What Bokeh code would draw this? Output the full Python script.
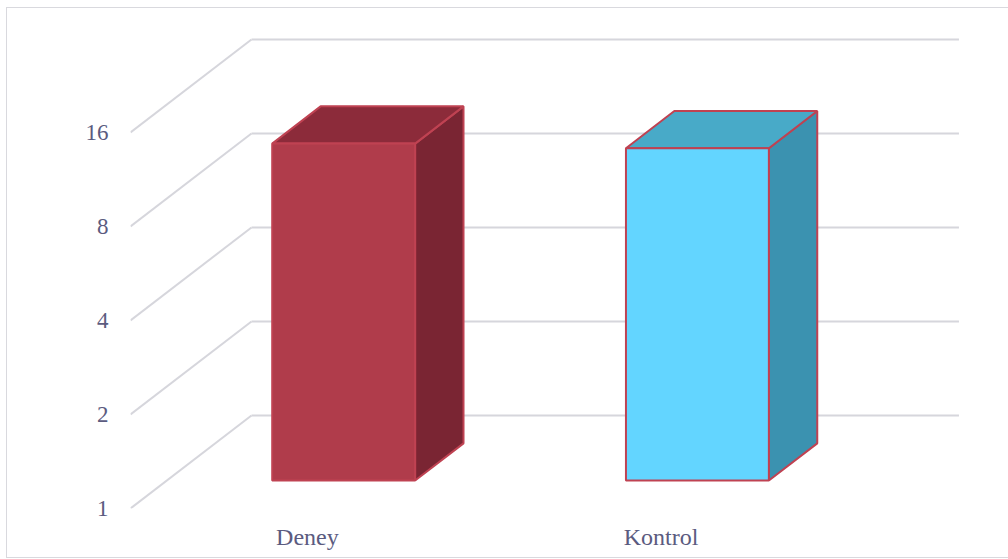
import numpy as np
from bokeh.plotting import figure
from bokeh.models import Range1d, FixedTicker, PrintfTickFormatter, InlineStyleSheet
from bokeh.embed import file_html
from bokeh.resources import INLINE

# ---- data ----
categories = ["Deney", "Kontrol"]
values = [12.0, 11.6]
y_ticks = [1, 2, 4, 8, 16]

# ---- style ----
front_colors = ["#B03C4B", "#63D5FF"]
top_colors = ["#8C2B3A", "#48AAC8"]
side_colors = ["#7A2533", "#3B92B0"]
edge_color = "#BF4252"
grid_color = "#d6d6dc"
text_color = "#5b5b7f"
font = "Liberation Serif"

# 3D projection parameters
DX = 0.342      # depth shift along x (in category units)
DLOG = 0.99     # depth shift along y (in doublings)
D0, D1 = 0.3, 0.7
BAR_W = 0.404
F = 2 ** DLOG
base = 1.0
n = len(categories)

p = figure(width=1008, height=559, y_axis_type="log",
           x_range=Range1d(0, 2.4594), y_range=Range1d(1, 2 ** (498 / 94)),
           min_border_left=130, min_border_right=8, min_border_top=10, min_border_bottom=51,
           output_backend="svg", toolbar_location=None)
p.xgrid.visible = False
p.ygrid.visible = False
p.outline_line_color = None
p.background_fill_color = "white"

# walls
bx0 = [DX for t in y_ticks]
bx1 = [n + DX for t in y_ticks]
by = [t * F for t in y_ticks]
p.segment(bx0, by, bx1, by, line_color=grid_color, line_width=2)
p.segment([0 for t in y_ticks], y_ticks, bx0, by, line_color=grid_color, line_width=2)

# bars
s0, s1 = F ** D0, F ** D1
fx, fy, tx, ty, sx, sy = [], [], [], [], [], []
for i, v in enumerate(values):
    c = i + 0.5
    xl, xr = c - BAR_W / 2, c + BAR_W / 2
    fx.append([xl + D0 * DX, xr + D0 * DX, xr + D0 * DX, xl + D0 * DX])
    fy.append([base * s0, base * s0, v * s0, v * s0])
    tx.append([xl + D0 * DX, xr + D0 * DX, xr + D1 * DX, xl + D1 * DX])
    ty.append([v * s0, v * s0, v * s1, v * s1])
    sx.append([xr + D0 * DX, xr + D1 * DX, xr + D1 * DX, xr + D0 * DX])
    sy.append([base * s0, base * s1, v * s1, v * s0])

p.patches(sx, sy, fill_color=side_colors, line_color=edge_color, line_width=2)
p.patches(tx, ty, fill_color=top_colors, line_color=edge_color, line_width=2)
p.patches(fx, fy, fill_color=front_colors, line_color=edge_color, line_width=2)

# axes
ya = p.yaxis[0]
ya.ticker = FixedTicker(ticks=y_ticks)
ya.formatter = PrintfTickFormatter(format="%d")
ya.axis_line_color = None
ya.major_tick_line_color = None
ya.minor_tick_line_color = None
ya.major_tick_out = 0
ya.major_label_standoff = 22
ya.major_label_text_font = font
ya.major_label_text_font_size = "23px"
ya.major_label_text_color = text_color

xa = p.xaxis[0]
xa.ticker = FixedTicker(ticks=[i + 0.5 for i in range(n)])
xa.major_label_overrides = {i + 0.5: c for i, c in enumerate(categories)}
xa.axis_line_color = None
xa.major_tick_line_color = None
xa.minor_tick_line_color = None
xa.major_tick_out = 0
xa.major_label_standoff = 15
xa.major_label_text_font = font
xa.major_label_text_font_size = "24px"
xa.major_label_text_color = text_color

# outer chart border (chart-area frame, drawn via CSS on the plot element)
p.stylesheets = [InlineStyleSheet(css=(
    ":host{position:relative;overflow:hidden;} "
    ":host::after{content:'';position:absolute;left:6px;top:7px;width:1006px;height:551px;"
    "border:1.5px solid #d9d9de;box-sizing:border-box;pointer-events:none;}"))]

open("out.html", "w").write(file_html(p, INLINE))
